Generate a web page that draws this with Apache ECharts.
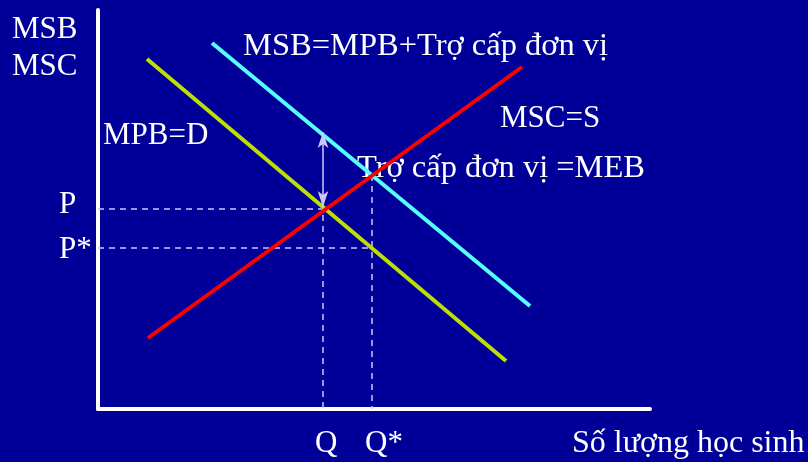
<!DOCTYPE html>
<html>
<head>
<meta charset="utf-8">
<script src="https://cdn.jsdelivr.net/npm/echarts@6/dist/echarts.min.js"></script>
<style>
html,body{margin:0;padding:0;background:#000099;}
#c{width:808px;height:462px;}
</style>
</head>
<body>
<div id="c"></div>
<script>
// Schematic data (quantity on x, price/benefit on y)
var mpbD = [[49, 350], [408, 48]];          // MPB = D (yellow-green)
var msb = [[114, 366], [432, 103]];         // MSB = MPB + subsidy (cyan)
var mscS = [[50, 71], [424, 342]];          // MSC = S (red)
var Q = 225, P = 200;                        // market equilibrium
var Qstar = 274, Pstar = 161, PtopStar = 234; // social optimum
var arrowFrom = [225, 202], arrowTo = [225, 277]; // subsidy = MEB
var labels = {
  yTitle1: 'MSB', yTitle2: 'MSC',
  msb: 'MSB=MPB+Trợ cấp đơn vị',
  mpb: 'MPB=D',
  msc: 'MSC=S',
  meb: 'Trợ cấp đơn vị =MEB',
  p: 'P', pStar: 'P*', q: 'Q', qStar: 'Q*',
  xTitle: 'Số lượng học sinh'
};

var chart = echarts.init(document.getElementById('c'), null, {renderer: 'canvas'});
var FONT = '31px "Liberation Serif", "Times New Roman", serif';
var FONT_VN = '32.5px "Liberation Serif", "Times New Roman", serif';
var FONT_X = '32px "Liberation Serif", "Times New Roman", serif';
var TXT = '#ffffff';
var DASH = '#c8c8ff';
function txt(t, x, y, f) {
  return {type: 'text', left: x, top: y, style: {text: t, fill: TXT, font: f || FONT}};
}
chart.setOption({
  backgroundColor: '#000099',
  animation: false,
  grid: {left: 98, right: 158, top: 10, bottom: 53},
  xAxis: {type: 'value', min: 0, max: 552, axisLine: {show: true, lineStyle: {color: '#ffffff', width: 4}},
    axisTick: {show: false}, axisLabel: {show: false}, splitLine: {show: false}},
  yAxis: {type: 'value', min: 0, max: 399, axisLine: {show: true, lineStyle: {color: '#ffffff', width: 4}},
    axisTick: {show: false}, axisLabel: {show: false}, splitLine: {show: false}},
  series: [
    {type: 'line', data: [[0, P], [Q, P], [Q, 0]], symbol: 'none', z: 1,
      lineStyle: {color: DASH, width: 1.5, type: [6, 5]}},
    {type: 'line', data: [[0, Pstar], [Qstar, Pstar]], symbol: 'none', z: 1,
      lineStyle: {color: DASH, width: 1.5, type: [6, 5]}},
    {type: 'line', data: [[Qstar, PtopStar], [Qstar, 0]], symbol: 'none', z: 1,
      lineStyle: {color: DASH, width: 1.5, type: [6, 5]}},
    {type: 'line', data: mpbD, symbol: 'none', z: 3, lineStyle: {color: '#bde000', width: 4}},
    {type: 'line', data: msb, symbol: 'none', z: 3, lineStyle: {color: '#55ffff', width: 4}},
    {type: 'line', data: mscS, symbol: 'none', z: 4, lineStyle: {color: '#ff0000', width: 4},
      markLine: {silent: true, symbol: ['arrow', 'arrow'], symbolSize: [8, 16], label: {show: false},
        lineStyle: {color: DASH, width: 1.5, type: 'solid'},
        data: [[{coord: arrowFrom}, {coord: arrowTo}]]}}
  ],
  graphic: [
    txt(labels.yTitle1, 12, 14),
    txt(labels.yTitle2, 12, 51),
    txt(labels.msb, 243, 30, FONT_VN),
    txt(labels.mpb, 103, 120),
    txt(labels.msc, 500, 103),
    txt(labels.meb, 357, 152, FONT_VN),
    txt(labels.p, 59, 189),
    txt(labels.pStar, 59, 234),
    txt(labels.q, 315, 428),
    txt(labels.qStar, 365, 428),
    txt(labels.xTitle, 572, 428, FONT_X)
  ]
});
</script>
</body>
</html>
